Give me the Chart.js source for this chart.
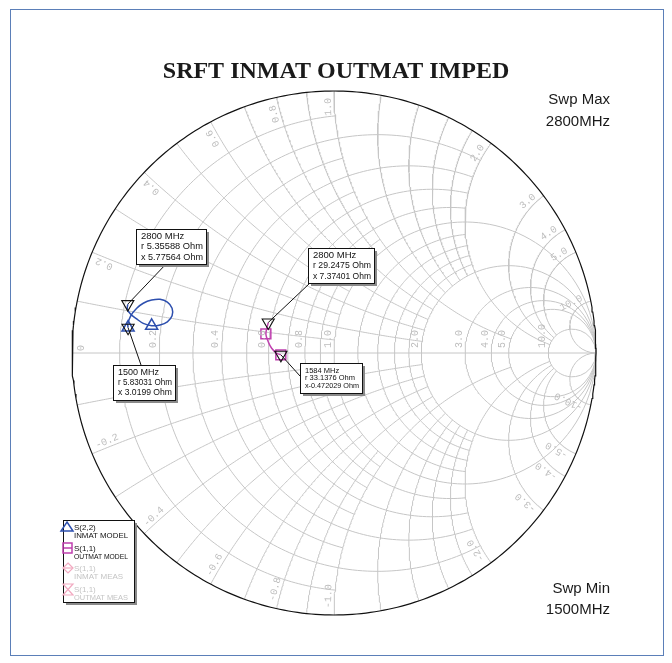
<!DOCTYPE html>
<html>
<head>
<meta charset="utf-8">
<script src="https://cdn.jsdelivr.net/npm/chart.js@4.4.1/dist/chart.umd.min.js"></script>
<style>
  html, body { margin: 0; padding: 0; background: #fff; }
  #wrap { position: relative; width: 672px; height: 663px; }
  #frame { position: absolute; left: 10px; top: 9px; width: 652px; height: 645px; border: 1px solid #5b7fb8; }
  #smith { position: absolute; left: 0; top: 0; }
</style>
</head>
<body>
<div id="wrap">
  <div id="frame"></div>
  <canvas id="smith" width="672" height="663"></canvas>
</div>
<script>
// grid values, normalised to Z0 = 50 Ohm
const rFine = [0.1, 0.3, 0.5, 0.7, 0.9];                 // drawn while |x| <= 1
const rMid = [0.2, 0.4, 0.6, 0.8, 1.2, 1.4, 1.6, 1.8];   // drawn while |x| <= 2
const rFull = [1, 2, 3, 4, 5, 10];
const xFine = [0.1, 0.3, 0.5, 0.7, 0.9];                 // drawn while r <= 1
const xMid = [0.2, 0.4, 0.6, 0.8, 1.2, 1.4, 1.6, 1.8];   // drawn while r <= 2
const xOne = [1];                                        // drawn while r <= 5
const xHigh = [2, 3, 4, 5];                              // drawn while r <= 10
const xFull = [10];
const rLabels = [0, 0.2, 0.4, 0.6, 0.8, 1, 2, 3, 4, 5, 10];
const xLabels = [0.2, 0.4, 0.6, 0.8, 1, 2, 3, 4, 5, 10];

// traces, reflection coefficient (1500 -> 2800 MHz)
const inmatRe = [-0.786, -0.787, -0.776, -0.753, -0.728, -0.696, -0.664, -0.636, -0.618,
                 -0.618, -0.636, -0.664, -0.696, -0.728, -0.753, -0.776, -0.789, -0.787];
const inmatIm = [0.097, 0.110, 0.142, 0.171, 0.190, 0.202, 0.205, 0.194, 0.171,
                 0.142, 0.119, 0.107, 0.104, 0.113, 0.130, 0.148, 0.168, 0.186];
const outmatRe = [-0.203, -0.219, -0.238, -0.251, -0.260, -0.251];
const outmatIm = [-0.007, -0.001, 0.018, 0.043, 0.073, 0.116];

// marker readouts
const markerFreq = ['2800 MHz', '1500 MHz', '2800 MHz', '1584 MHz'];
const markerR = [5.35588, 5.83031, 29.2475, 33.1376];
const markerX = [5.77564, 3.0199, 7.37401, -0.472029];
const markerRText = ['r 5.35588 Ohm', 'r 5.83031 Ohm', 'r 29.2475 Ohm', 'r 33.1376 Ohm'];
const markerXText = ['x 5.77564 Ohm', 'x 3.0199 Ohm', 'x 7.37401 Ohm', 'x-0.472029 Ohm'];
const Z0 = 50;

function gamma(r, x) {
  const d = (r + 1) * (r + 1) + x * x;
  return { x: (r * r + x * x - 1) / d, y: 2 * x / d };
}

function rCircle(r, xmax) {
  const U = xmax === Infinity ? Math.PI / 2 - 1e-4 : Math.atan(xmax);
  const pts = [];
  for (let i = 0; i <= 200; i++) {
    const u = -U + 2 * U * i / 200;
    pts.push(gamma(r, Math.tan(u)));
  }
  return pts;
}

function xArc(x, rmax) {
  const V = rmax === Infinity ? Math.PI / 2 - 1e-4 : Math.atan(rmax);
  const pts = [];
  for (let i = 0; i <= 160; i++) pts.push(gamma(Math.tan(V * i / 160), x));
  return pts;
}

function gridSet(data) {
  return { data, showLine: true, pointRadius: 0, borderColor: '#c6c6c6', borderWidth: 1, order: 3, clip: false };
}

const datasets = [];
rFine.forEach(r => datasets.push(gridSet(rCircle(r, 1))));
rMid.forEach(r => datasets.push(gridSet(rCircle(r, 2))));
rFull.forEach(r => datasets.push(gridSet(rCircle(r, Infinity))));
[1, -1].forEach(s => {
  xFine.forEach(x => datasets.push(gridSet(xArc(s * x, 1))));
  xMid.forEach(x => datasets.push(gridSet(xArc(s * x, 2))));
  xOne.forEach(x => datasets.push(gridSet(xArc(s * x, 5))));
  xHigh.forEach(x => datasets.push(gridSet(xArc(s * x, 10))));
  xFull.forEach(x => datasets.push(gridSet(xArc(s * x, Infinity))));
});
// horizontal axis and outer circle
datasets.push(gridSet([{ x: -1, y: 0 }, { x: 1, y: 0 }]));
const rim = [];
for (let i = 0; i <= 360; i++) rim.push({ x: Math.cos(i * Math.PI / 180), y: Math.sin(i * Math.PI / 180) });
datasets.push({ data: rim, showLine: true, pointRadius: 0, borderColor: '#111', borderWidth: 1.2, order: 2, clip: false });

const blue = '#2d4fae', magenta = '#bf3fae';
const inmatPts = inmatRe.map((v, i) => ({ x: v, y: inmatIm[i] }));
const outmatPts = outmatRe.map((v, i) => ({ x: v, y: outmatIm[i] }));
const symbolAt = (n, idx, rad) => Array.from({ length: n }, (_, i) => idx.includes(i) ? rad : 0);

datasets.push({
  data: inmatPts, showLine: true, borderColor: blue, borderWidth: 1.5, tension: 0.3, order: 1, clip: false,
  pointStyle: 'triangle', pointRadius: symbolAt(inmatPts.length, [0, 12], 7),
  pointBorderColor: blue, pointBackgroundColor: 'rgba(0,0,0,0)', pointBorderWidth: 1.5
});
datasets.push({
  data: outmatPts, showLine: true, borderColor: magenta, borderWidth: 1.5, tension: 0.3, order: 1, clip: false,
  pointStyle: 'rect', pointRadius: symbolAt(outmatPts.length, [0, 4], 7),
  pointBorderColor: magenta, pointBackgroundColor: 'rgba(0,0,0,0)', pointBorderWidth: 1.5
});
// marker symbols at the readout impedances
const markerPts = markerR.map((r, i) => gamma(r / Z0, markerX[i] / Z0));
datasets.push({
  data: markerPts, showLine: false, pointStyle: 'triangle', rotation: 180, pointRadius: 7,
  pointBorderColor: '#111', pointBackgroundColor: 'rgba(0,0,0,0)', pointBorderWidth: 1.1, order: 0, clip: false
});

// marker box layout: left, top, width, height, font size, line height, attach x, attach y
const boxes = [
  { x: 136, y: 229, w: 70, h: 35, fs: 9.5, lh: 10.5, ax: 167, ay: 263 },
  { x: 113, y: 365, w: 62, h: 35, fs: 9, lh: 10, ax: 141, ay: 365 },
  { x: 308, y: 248, w: 66, h: 35, fs: 9.5, lh: 10.5, ax: 310, ay: 283 },
  { x: 300, y: 363, w: 62, h: 30, fs: 7.5, lh: 7.5, ax: 300, ay: 376 }
];

const textPlugin = {
  id: 'smithText',
  afterDatasetsDraw(chart) {
    const ctx = chart.ctx;
    const sx = chart.scales.x, sy = chart.scales.y;
    const pix = p => ({ x: sx.getPixelForValue(p.x), y: sy.getPixelForValue(p.y) });
    ctx.save();

    // resistance labels along the real axis
    ctx.fillStyle = '#bdbdbd';
    ctx.font = '10px "Liberation Mono"';
    rLabels.forEach(r => {
      const p = pix(gamma(r, 0));
      const t = r === 0 ? '0' : r.toFixed(1);
      ctx.save();
      ctx.translate(p.x, p.y);
      ctx.rotate(-Math.PI / 2);
      if (r === 0) { ctx.textBaseline = 'top'; ctx.textAlign = 'left'; ctx.fillText(t, 2, 4); }
      else { ctx.textBaseline = 'bottom'; ctx.textAlign = 'left'; ctx.fillText(t, 5, -1); }
      ctx.restore();
    });

    // reactance labels near the rim, following the arcs
    const g = 0.975;
    [1, -1].forEach(s => {
      xLabels.forEach(xv => {
        const x = s * xv;
        const a = 1 - g * g, b = 1 + g * g;
        const r = (b - Math.sqrt(Math.max(b * b - a * a * (1 + x * x), 0))) / a;
        const p1 = pix(gamma(r, x)), p2 = pix(gamma(r + 0.02, x));
        const ang = Math.atan2(p1.y - p2.y, p1.x - p2.x);
        ctx.save();
        ctx.translate(p1.x, p1.y);
        ctx.textBaseline = 'bottom';
        if (s > 0) { ctx.rotate(ang); ctx.textAlign = 'right'; }
        else { ctx.rotate(ang + Math.PI); ctx.textAlign = 'left'; }
        ctx.fillText((s < 0 ? '-' : '') + xv.toFixed(1), 0, -1);
        ctx.restore();
      });
    });

    // leader lines and marker boxes
    boxes.forEach((bx, i) => {
      const p = pix(markerPts[i]);
      ctx.strokeStyle = '#111';
      ctx.lineWidth = 1;
      ctx.beginPath(); ctx.moveTo(p.x, p.y); ctx.lineTo(bx.ax, bx.ay); ctx.stroke();
    });
    boxes.forEach((bx, i) => {
      ctx.fillStyle = '#8a8a8a'; ctx.fillRect(bx.x + 3, bx.y + 3, bx.w, bx.h);
      ctx.fillStyle = '#fff'; ctx.fillRect(bx.x, bx.y, bx.w, bx.h);
      ctx.strokeStyle = '#111'; ctx.lineWidth = 1; ctx.strokeRect(bx.x + 0.5, bx.y + 0.5, bx.w, bx.h);
      ctx.fillStyle = '#111';
      ctx.font = bx.fs + 'px "Liberation Sans"';
      ctx.textAlign = 'left'; ctx.textBaseline = 'middle';
      const lines = [markerFreq[i], markerRText[i], markerXText[i]];
      const top = bx.y + bx.h / 2 - bx.lh;
      lines.forEach((t, k) => ctx.fillText(t, bx.x + 5, top + k * bx.lh, bx.w - 8));
    });

    // title and sweep notes
    ctx.fillStyle = '#1a1a1a';
    ctx.font = 'bold 24px "Liberation Serif"';
    ctx.textAlign = 'center'; ctx.textBaseline = 'middle';
    ctx.fillText('SRFT INMAT OUTMAT IMPED', 336, 72);
    ctx.font = '15px "Liberation Sans"';
    ctx.textAlign = 'right';
    ctx.fillText('Swp Max', 610, 100);
    ctx.fillText('2800MHz', 610, 122);
    ctx.fillText('Swp Min', 610, 589);
    ctx.fillText('1500MHz', 610, 610);

    // legend
    const lx = 63, ly = 520, lw = 71, lh = 82;
    ctx.fillStyle = '#8a8a8a'; ctx.fillRect(lx + 3, ly + 3, lw, lh);
    ctx.fillStyle = '#fff'; ctx.fillRect(lx, ly, lw, lh);
    ctx.strokeStyle = '#111'; ctx.lineWidth = 1; ctx.strokeRect(lx + 0.5, ly + 0.5, lw, lh);
    ctx.lineWidth = 1.5;
    // S(2,2) triangle
    ctx.strokeStyle = blue;
    ctx.beginPath(); ctx.moveTo(67, 522); ctx.lineTo(73, 531); ctx.lineTo(61, 531); ctx.closePath(); ctx.stroke();
    // S(1,1) square
    ctx.strokeStyle = magenta;
    ctx.strokeRect(63, 543, 9, 10);
    ctx.beginPath(); ctx.moveTo(64, 548); ctx.lineTo(72, 548); ctx.stroke();
    // faded meas symbols
    ctx.strokeStyle = '#f2a9c0'; ctx.lineWidth = 1.2;
    ctx.beginPath(); ctx.moveTo(68, 563); ctx.lineTo(73, 568); ctx.lineTo(68, 573); ctx.lineTo(63, 568); ctx.closePath(); ctx.stroke();
    ctx.beginPath(); ctx.moveTo(64, 568); ctx.lineTo(72, 568); ctx.stroke();
    ctx.beginPath(); ctx.moveTo(63, 584); ctx.lineTo(73, 584); ctx.lineTo(63, 595); ctx.lineTo(73, 595); ctx.closePath(); ctx.stroke();
    ctx.font = '8px "Liberation Sans"';
    ctx.textAlign = 'left'; ctx.textBaseline = 'middle';
    const legTxt = [['S(2,2)', 'INMAT MODEL', '#111'], ['S(1,1)', 'OUTMAT MODEL', '#111'],
                    ['S(1,1)', 'INMAT MEAS', '#c4c4c4'], ['S(1,1)', 'OUTMAT MEAS', '#c4c4c4']];
    legTxt.forEach((t, k) => {
      const y0 = 528 + k * 20.5;
      ctx.fillStyle = t[2];
      ctx.fillText(t[0], 74, y0, 26);
      ctx.fillText(t[1], 74, y0 + 8, 54);
    });
    ctx.restore();
  }
};

new Chart(document.getElementById('smith'), {
  type: 'scatter',
  data: { datasets },
  options: {
    responsive: false,
    animation: false,
    events: [],
    layout: { padding: { left: 72, right: 76, top: 91, bottom: 48 } },
    scales: {
      x: { type: 'linear', min: -1, max: 1, display: false },
      y: { type: 'linear', min: -1, max: 1, display: false }
    },
    plugins: { legend: { display: false }, tooltip: { enabled: false } }
  },
  plugins: [textPlugin]
});
</script>
</body>
</html>
